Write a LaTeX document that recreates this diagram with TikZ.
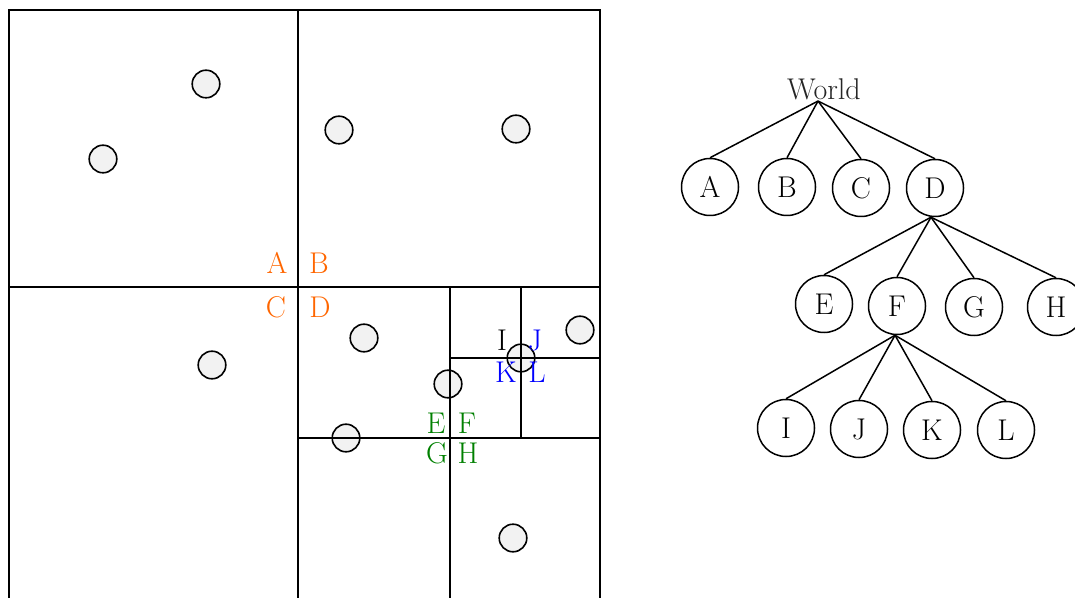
\documentclass[tikz,border=0pt]{standalone}
\definecolor{lborange}{RGB}{255,102,0}
\definecolor{lbgreen}{RGB}{0,128,0}
\definecolor{lbblue}{RGB}{0,0,255}
\definecolor{ptfill}{RGB}{242,242,242}
\begin{document}
\begin{tikzpicture}[x=0.5pt,y=-0.5pt,
  grid/.style={line width=0.8pt},
  pt/.style={circle,draw,line width=0.8pt,fill=ptfill,minimum size=13.8pt,inner sep=0pt},
  tn/.style={circle,draw,line width=0.75pt,minimum size=28.5pt,inner sep=0pt,font=\fontsize{15}{18}\selectfont},
  lab/.style={inner sep=0pt,font=\fontsize{15}{18}\selectfont},
  tedge/.style={line width=0.75pt}]
\clip (0,0) rectangle (1075,598);
% points
\node[pt] (p1) at (206,84) {};
\node[pt] (p2) at (103,159) {};
\node[pt] (p3) at (339,130) {};
\node[pt] (p4) at (516,129) {};
\node[pt] (p5) at (212,365) {};
\node[pt] (p6) at (364,338) {};
\node[pt] (p7) at (580,330) {};
\node[pt] (p8) at (521,358) {};
\node[pt] (p9) at (448,384) {};
\node[pt] (p10) at (346,438) {};
\node[pt] (p11) at (513,538) {};
% subdivision
\draw[grid] (9,10) rectangle (600,601);
\draw[grid] (298,10) -- (298,601);
\draw[grid] (9,287) -- (600,287);
\draw[grid] (450,287) -- (450,601);
\draw[grid] (298,438) -- (600,438);
\draw[grid] (521,287) -- (521,438);
\draw[grid] (450,358) -- (600,358);
% labels
\node[lab,text=lborange] (la) at (277,263) {A};
\node[lab,text=lborange] (lb) at (319,263) {B};
\node[lab,text=lborange] (lc) at (276,307) {C};
\node[lab,text=lborange] (ld) at (320,307) {D};
\node[lab,text=black] (li) at (502,340) {I};
\node[lab,text=lbblue] (lj) at (535,340) {J};
\node[lab,text=lbblue] (lk) at (506,372) {K};
\node[lab,text=lbblue] (ll) at (537,372) {L};
\node[lab,text=lbgreen] (le) at (436,423) {E};
\node[lab,text=lbgreen] (lf) at (467,423) {F};
\node[lab,text=lbgreen] (lg) at (437,453) {G};
\node[lab,text=lbgreen] (lh) at (468,453) {H};
% tree
\node[lab,inner sep=0.5pt,text=black!85] (W) at (824,89) {World};
\node[tn] (tA) at (710,187) {A};
\node[tn] (tB) at (787,187) {B};
\node[tn] (tC) at (861,188) {C};
\node[tn] (tD) at (935,188) {D};
\node[tn] (tE) at (824,304) {E};
\node[tn] (tF) at (897,306) {F};
\node[tn] (tG) at (974,307) {G};
\node[tn] (tH) at (1056,307) {H};
\node[tn] (tI) at (786,428) {I};
\node[tn] (tJ) at (859,429) {J};
\node[tn] (tK) at (932,430) {K};
\node[tn] (tL) at (1006,430) {L};
\foreach \c in {tA,tB,tC,tD} \draw[tedge] ([xshift=-3pt]W.south) -- (\c.north);
\foreach \c in {tE,tF,tG,tH} \draw[tedge] ([xshift=-2pt]tD.south) -- (\c.north);
\foreach \c in {tI,tJ,tK,tL} \draw[tedge] ([xshift=-1pt]tF.south) -- (\c.north);
\end{tikzpicture}
\end{document}
